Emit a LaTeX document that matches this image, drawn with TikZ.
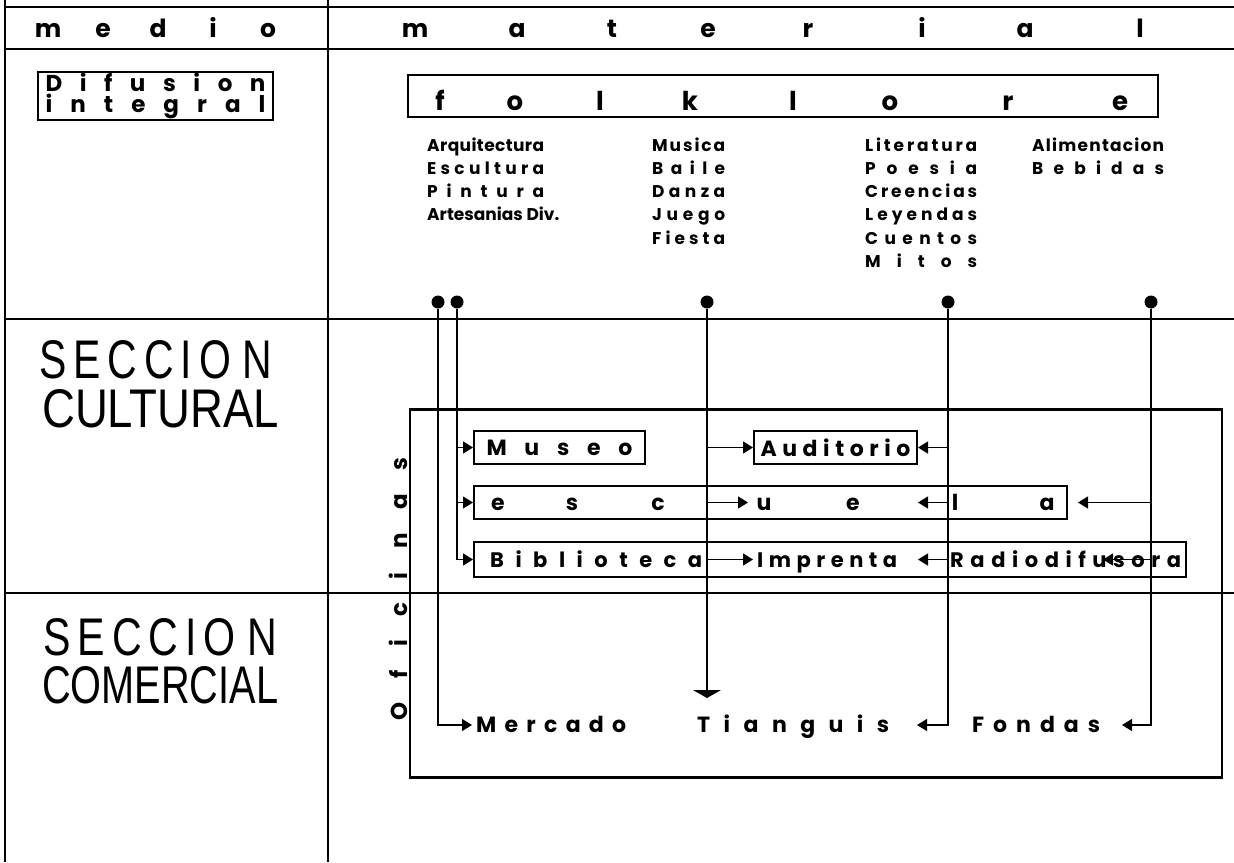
\documentclass[tikz,border=0pt]{standalone}
\usepackage{fontspec}
\setmainfont{Poppins}
\newfontfamily\secfont{Liberation Sans}
\usetikzlibrary{arrows.meta,positioning}

% letters spread evenly over a given width
\makeatletter
\def\spr@ad#1{\ifx#1\@nil\else\hfil#1\expandafter\spr@ad\fi}
\def\spr@adfirst#1{#1\spr@ad}
\newcommand\spread[2]{\hbox to #1{\expandafter\spr@adfirst#2\@nil}}
\makeatother

\begin{document}
\begin{tikzpicture}[x=1pt,y=-1pt,
  frame/.style={draw,line width=2pt,inner sep=0pt},
  letter/.style={font=\fontsize{25}{25}\selectfont\bfseries,inner sep=0pt,anchor=base},
  item/.style={font=\fontsize{17}{17}\selectfont\bfseries,inner sep=0pt,anchor=west,
    text height=12pt,text depth=0pt},
  word/.style={font=\fontsize{21}{21}\selectfont\bfseries,inner xsep=4pt,inner ysep=0pt,
    text height=15pt,text depth=0pt,anchor=west},
  pin/.style={circle,fill,inner sep=0pt,minimum size=13pt},
  sec/.style={inner sep=0pt,anchor=north west,font=\secfont\fontsize{53}{53}\selectfont},
  ar/.style={line width=1.3pt,-{Triangle[length=10pt,width=12pt]}},
  arbig/.style={line width=1.3pt,-{Triangle[length=8pt,width=28pt]}}]
\useasboundingbox (0,0) rectangle (1234,862);
% table rules
\draw[line width=2.6pt] (5,0) -- (5,862);
\draw[line width=2.2pt] (328,0) -- (328,862);
\draw[line width=2.6pt] (5,7) -- (1234,7);
\draw[line width=2.6pt] (5,49) -- (1234,49);
\draw[line width=1.8pt] (5,319) -- (1234,319);
\draw[line width=2pt] (5,593) -- (1234,593);
% header
\foreach \c/\x [count=\i] in {m/48,e/103,d/158,i/213,o/268}
  \node[letter] (hm\i) at (\x,37) {\c};
\foreach \c/\x [count=\i] in {m/415,a/517,t/612,e/708,r/808,i/922,a/1025,l/1140}
  \node[letter] (ht\i) at (\x,37) {\c};
% medio / material
\node[frame,minimum width=235pt,minimum height=48pt,align=center,
  font=\fontsize{23}{21}\selectfont\bfseries] (difusion) at (155.5,96)
  {\spread{220pt}{Difusion}\\\spread{220pt}{integral}};
\node[frame,minimum width=750pt,minimum height=42pt] (folk) at (783,96) {};
\foreach \c/\x [count=\i] in {f/440,o/515,l/600,k/690,l/793,o/890,r/1008,e/1120}
  \node[letter,font=\fontsize{26}{26}\selectfont\bfseries] (fk\i) at (\x,110) {\c};
% folklore lists
\foreach \w [count=\i] in {Arquitectura,Escultura,Pintura}
  \node[item] (ar\i) at (427,{145+23.3*(\i-1)}) {\spread{117pt}{\w}};
\node[item] (ar4) at (427,{145+23.3*3}) {Artesanias Div.};
\foreach \w [count=\i] in {Musica,Baile,Danza,Juego,Fiesta}
  \node[item] (mu\i) at (652,{145+23.3*(\i-1)}) {\spread{73pt}{\w}};
\foreach \w [count=\i] in {Literatura,Poesia,Creencias,Leyendas,Cuentos,Mitos}
  \node[item] (li\i) at (865,{145+23.3*(\i-1)}) {\spread{112pt}{\w}};
\foreach \w [count=\i] in {Alimentacion,Bebidas}
  \node[item] (al\i) at (1032,{145+23.3*(\i-1)}) {\spread{132pt}{\w}};
\foreach \n/\x in {A/438,B/457,C/707,D/948,E/1151}
  \node[pin] (d\n) at (\x,302) {};
% secciones
\node[sec] (secc1) at (39,340)
  {\resizebox{233pt}{38pt}{S\kern9pt E\kern9pt C\kern9pt C\kern9pt I\kern9pt O\kern15pt N}};
\node[sec] (cult) at (42,389)
  {\resizebox{237pt}{38pt}{CULTURAL}};
\node[sec] (secc2) at (43,618)
  {\resizebox{234pt}{37pt}{S\kern9pt E\kern9pt C\kern9pt C\kern9pt I\kern9pt O\kern15pt N}};
\node[sec] (comer) at (42,666)
  {\resizebox{236pt}{37pt}{COMERCIAL}};
% oficinas
\node[frame,line width=2.4pt,minimum width=812pt,minimum height=368pt] (oficinas) at (816,593.5) {};
\node[font=\fontsize{23}{23}\selectfont\bfseries,rotate=90,inner sep=0pt] (ofic) at (398,589)
  {\spread{262pt}{Oficinas}};
\node[frame,minimum width=171pt,minimum height=33pt,font=\fontsize{22}{22}\selectfont\bfseries]
  (museo) at (559.5,447.5) {\spread{146pt}{Museo}};
\node[frame,minimum width=163pt,minimum height=33pt,font=\fontsize{22}{22}\selectfont\bfseries]
  (auditorio) at (835.5,447.5) {\spread{150pt}{Auditorio}};
\node[frame,minimum width=593pt,minimum height=33pt] (escuela) at (770.5,502.5) {};
\foreach \c/\x [count=\i] in {e/498,s/572,c/658,u/764,e/853,l/955,a/1047}
  \node[letter,font=\fontsize{22}{22}\selectfont\bfseries] (esc\i) at (\x,510) {\c};
\node[frame,minimum width=712pt,minimum height=35pt] (biblio) at (830,559.5) {};
\node[word] (bibl) at (486,559.5) {\spread{212pt}{Biblioteca}};
\node[word] (imprenta) at (753,559.5) {\spread{140pt}{Imprenta}};
\node[word] (radio) at (946,559.5) {\spread{231pt}{Radiodifusora}};
\node[word,font=\fontsize{22}{22}\selectfont\bfseries] (mercado) at (472,725) {\spread{150pt}{Mercado}};
\node[word,font=\fontsize{22}{22}\selectfont\bfseries] (tianguis) at (693,725) {\spread{192pt}{Tianguis}};
\node[word,font=\fontsize{22}{22}\selectfont\bfseries] (fondas) at (968,725) {\spread{128pt}{Fondas}};
\coordinate (eU) at (748,502.5);
\coordinate (eL) at (918,502.5);
\coordinate (eR) at (1078,502.5);
\coordinate (bL) at (918,559.5);
\coordinate (bR) at (1103,559.5);
\coordinate (down) at (707,698);
\coordinate (tiaR) at (917,725);
\coordinate (fonR) at (1122,725);
% connectors
\draw[ar] (dA) |- (mercado.west);
\draw[ar] (dB) |- (museo.west);
\draw[ar] (dB) |- (escuela.west);
\draw[ar] (dB) |- (biblio.west);
\draw[arbig] (dC) -- (down);
\draw[ar] (dC) |- (auditorio.west);
\draw[ar] (dC) |- (eU);
\draw[ar] (dC) |- (imprenta.west);
\draw[ar] (dD) |- (auditorio.east);
\draw[ar] (dD) |- (eL);
\draw[ar] (dD) |- (bL);
\draw[ar] (dD) |- (tiaR);
\draw[ar] (dE) |- (eR);
\draw[ar] (dE) |- (bR);
\draw[ar] (dE) |- (fonR);
\end{tikzpicture}
\end{document}
